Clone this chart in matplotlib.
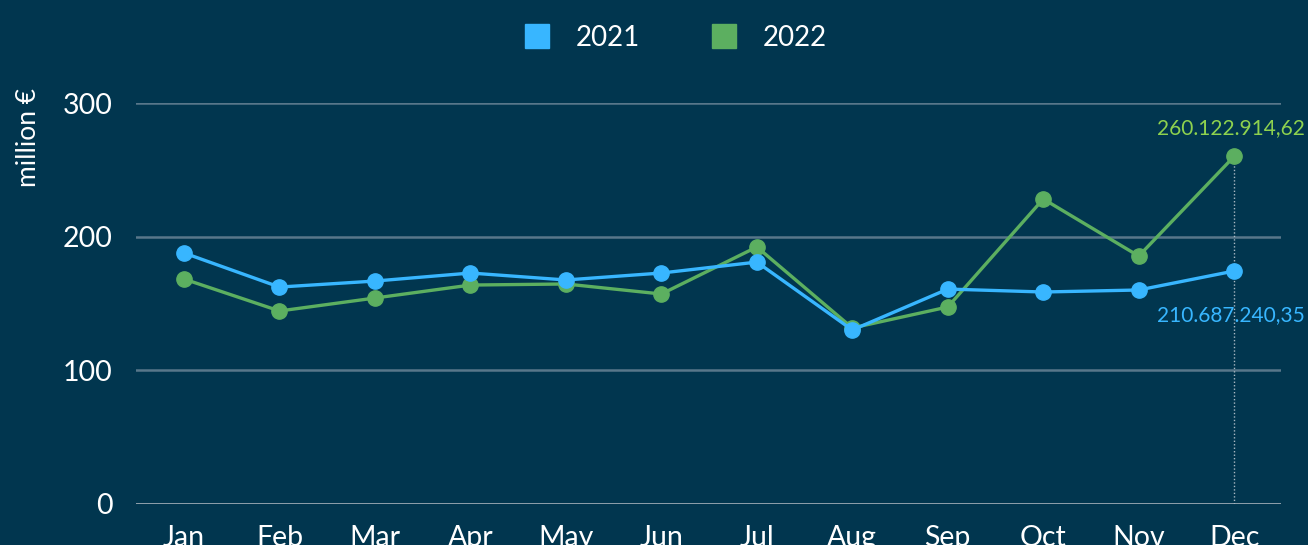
import matplotlib
matplotlib.use('Agg')
import matplotlib.pyplot as plt
from matplotlib.lines import Line2D

months = ['Jan', 'Feb', 'Mar', 'Apr', 'May', 'Jun', 'Jul', 'Aug', 'Sep', 'Oct', 'Nov', 'Dec']
values_2021 = [187.8, 162.3, 166.8, 172.8, 167.6, 172.8, 181.0, 130.2, 160.8, 158.6, 160.1, 174.3]
values_2022 = [168.3, 144.4, 154.1, 163.8, 164.6, 157.1, 192.3, 131.7, 147.4, 228.2, 185.5, 260.1]
series_names = ['2021', '2022']
label_2021 = '210.687.240,35'
label_2022 = '260.122.914,62'
yticks = [0, 100, 200, 300]

BG = '#01364f'
BLUE = '#38b6ff'
GREEN = '#5caf60'
GRID = '#58778a'

plt.rcParams['font.family'] = ['Lato', 'DejaVu Sans']

fig = plt.figure(figsize=(13.08, 5.45), dpi=100)
fig.patch.set_facecolor(BG)
ax = fig.add_axes([136 / 1308, 41 / 545, 1145 / 1308, 401 / 545])
ax.set_facecolor(BG)

x = list(range(len(months)))
ax.plot(x, values_2021, '-o', color=BLUE, lw=2.4, ms=11, zorder=4, clip_on=False)
ax.plot(x, values_2022, '-o', color=GREEN, lw=2.4, ms=11, zorder=3, clip_on=False)

# dotted marker line at the last month
ax.plot([x[-1], x[-1]], [0, values_2022[-1]], ls=(0, (1, 1.5)), color='#a9b8c2',
        lw=1, zorder=2)

ax.set_xlim(-0.503, 11.49)
ax.set_ylim(0, 300)
ax.set_yticks(yticks)
ax.set_xticks(x)
ax.set_xticklabels(months)
ax.grid(True, axis='y', color=GRID, lw=1.8)
ax.axhline(0, color='#9aa9b3', lw=1.2, zorder=1)
ax.set_axisbelow(True)
for s in ax.spines.values():
    s.set_visible(False)
ax.tick_params(axis='both', length=0, colors='white', labelsize=20.5)
ax.tick_params(axis='y', pad=17)
ax.tick_params(axis='x', pad=15)

ax.annotate(label_2022, (x[-1], values_2022[-1]), xytext=(51, 20),
            textcoords='offset points', ha='right', va='center', color='#8ed24e',
            fontsize=15, annotation_clip=False)
ax.annotate(label_2021, (x[-1], values_2021[-1]), xytext=(51, -32),
            textcoords='offset points', ha='right', va='center', color=BLUE,
            fontsize=15, annotation_clip=False)

fig.text(28 / 1308, 1 - 88 / 545, 'million €', rotation=90, ha='center', va='top',
         color='white', fontsize=19)

handles = [Line2D([0], [0], marker='s', ls='none', color=c, ms=17)
           for c in (BLUE, GREEN)]
leg = fig.legend(handles, series_names, loc='center', bbox_to_anchor=(668 / 1308, 1 - 38 / 545),
                 ncol=2, frameon=False, fontsize=20, labelcolor='white',
                 handletextpad=0.4, columnspacing=2.0)

fig.savefig('out.png', dpi=100, facecolor=fig.get_facecolor())
